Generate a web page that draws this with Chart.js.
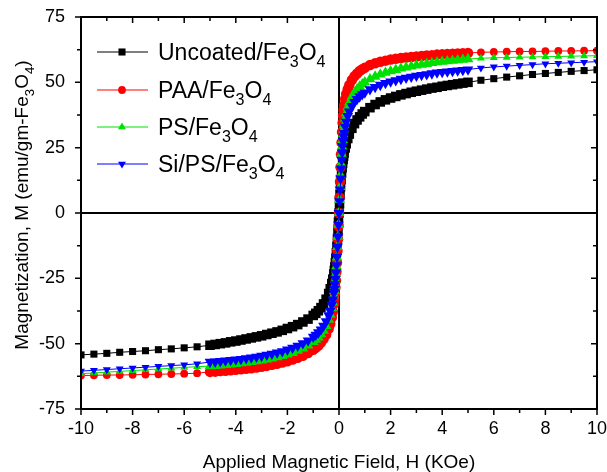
<!DOCTYPE html>
<html>
<head>
<meta charset="utf-8">
<script src="https://cdn.jsdelivr.net/npm/chart.js@4.4.1/dist/chart.umd.min.js"></script>
<style>
  html, body { margin: 0; padding: 0; background: #fff; }
  #wrap { width: 607px; height: 472px; }
</style>
</head>
<body>
<div id="wrap"><canvas id="mhChart" width="607" height="472"></canvas></div>
<script>
// applied field (KOe) - sparse at the ends, dense between -5 and 5
const fieldKOe = [
  -10, -9.5, -9, -8.5, -8, -7.5, -7, -6.5, -6, -5.5,
  -5, -4.8, -4.6, -4.4, -4.2, -4, -3.8, -3.6, -3.4, -3.2, -3, -2.8, -2.6, -2.4, -2.2, -2, -1.8, -1.6, -1.4, -1.2,
  -1, -0.9, -0.8, -0.7, -0.6, -0.5, -0.4, -0.34, -0.28, -0.24,
  -0.2, -0.18, -0.16, -0.14, -0.12, -0.1, -0.08, -0.06, -0.04, -0.02, 0, 0.02, 0.04, 0.06, 0.08, 0.1, 0.12, 0.14, 0.16, 0.18, 0.2,
  0.24, 0.28, 0.34, 0.4, 0.5, 0.6, 0.7, 0.8, 0.9, 1,
  1.2, 1.4, 1.6, 1.8, 2, 2.2, 2.4, 2.6, 2.8, 3, 3.2, 3.4, 3.6, 3.8, 4, 4.2, 4.4, 4.6, 4.8, 5,
  5.5, 6, 6.5, 7, 7.5, 8, 8.5, 9, 9.5, 10
];

// magnetization (emu/gm-Fe3O4)
const uncoated = [
  -54.3, -54.0, -53.7, -53.3, -53.0, -52.7, -52.3, -52.0, -51.6, -51.2,
  -50.6, -50.3, -50.0, -49.7, -49.3, -49.0, -48.6, -48.2, -47.8, -47.4, -47.0, -46.5, -46.0, -45.5, -44.9, -44.2, -43.5, -42.7, -41.7, -40.6,
  -39.2, -38.4, -37.4, -36.2, -34.8, -33.0, -30.8, -29.0, -27.0, -25.3,
  -23.3, -22.0, -20.6, -19.0, -17.3, -15.2, -12.8, -10.0, -7.0, -3.5, 0, 3.5, 7.0, 10.0, 12.8, 15.2, 17.3, 19.0, 20.5, 21.8, 23.0,
  24.9, 26.5, 28.5, 30.2, 32.4, 34.2, 35.6, 36.8, 37.9, 38.8,
  40.3, 41.5, 42.5, 43.3, 44.0, 44.6, 45.2, 45.7, 46.2, 46.6, 47.0, 47.4, 47.8, 48.1, 48.5, 48.8, 49.1, 49.4, 49.7, 50.0,
  50.8, 51.4, 52.0, 52.5, 53.0, 53.4, 53.8, 54.2, 54.5, 54.8
];
const paa = [
  -62.2, -62.1, -62.0, -62.0, -61.9, -61.8, -61.7, -61.6, -61.5, -61.3,
  -60.8, -60.7, -60.5, -60.4, -60.2, -60.0, -59.8, -59.6, -59.4, -59.1, -58.8, -58.5, -58.1, -57.7, -57.2, -56.7, -56.1, -55.4, -54.6, -53.6,
  -52.3, -51.6, -50.7, -49.6, -48.2, -46.5, -44.3, -42.5, -40.0, -37.8,
  -34.8, -33.0, -31.0, -28.5, -25.8, -22.5, -19.0, -14.5, -10.0, -5.0, 0, 6.0, 12.0, 17.5, 22.5, 27.0, 31.0, 34.5, 37.2, 39.4, 41.2,
  43.6, 45.5, 47.4, 49.0, 50.9, 52.3, 53.4, 54.3, 55.0, 55.6,
  56.6, 57.3, 57.9, 58.3, 58.7, 59.0, 59.3, 59.5, 59.7, 59.9, 60.1, 60.3, 60.4, 60.6, 60.7, 60.8, 60.9, 61.0, 61.1, 61.2,
  61.5, 61.6, 61.7, 61.8, 61.8, 61.9, 62.0, 62.0, 62.1, 62.1
];
const ps = [
  -61.5, -61.2, -60.9, -60.6, -60.3, -60.0, -59.7, -59.4, -59.1, -58.8,
  -58.6, -58.5, -58.3, -58.1, -57.9, -57.7, -57.5, -57.3, -57.0, -56.7, -56.4, -56.0, -55.6, -55.2, -54.7, -54.1, -53.5, -52.7, -51.8, -50.7,
  -49.3, -48.5, -47.6, -46.4, -45.0, -43.2, -40.8, -38.9, -36.4, -34.2,
  -31.4, -29.8, -27.9, -25.7, -23.2, -20.3, -17.0, -13.0, -9.0, -4.5, 0, 5.0, 10.0, 14.5, 18.8, 22.5, 25.5, 28.0, 30.2, 32.0, 33.6,
  36.2, 38.2, 40.5, 42.3, 44.5, 46.1, 47.4, 48.4, 49.3, 50.0,
  51.2, 52.2, 53.0, 53.7, 54.3, 54.8, 55.3, 55.7, 56.1, 56.5, 56.8, 57.1, 57.4, 57.7, 57.9, 58.1, 58.3, 58.5, 58.7, 58.9,
  59.2, 59.4, 59.5, 59.6, 59.7, 59.8, 59.9, 60.0, 60.1, 60.2
];
const siPs = [
  -60.5, -60.2, -59.9, -59.6, -59.3, -59.0, -58.7, -58.4, -58.1, -57.7,
  -57.0, -56.9, -56.7, -56.5, -56.3, -56.1, -55.9, -55.6, -55.3, -55.0, -54.7, -54.3, -53.9, -53.4, -52.9, -52.3, -51.6, -50.8, -49.9, -48.8,
  -47.4, -46.6, -45.7, -44.6, -43.2, -41.5, -39.2, -37.4, -35.1, -33.1,
  -30.6, -29.1, -27.3, -25.2, -22.8, -20.0, -16.8, -13.0, -9.0, -4.5, 0, 4.5, 9.0, 13.2, 17.0, 20.3, 23.1, 25.5, 27.5, 29.2, 30.6,
  33.0, 34.9, 37.1, 38.8, 40.9, 42.4, 43.6, 44.6, 45.4, 46.1,
  47.3, 48.2, 49.0, 49.7, 50.3, 50.8, 51.3, 51.7, 52.1, 52.5, 52.8, 53.1, 53.4, 53.7, 53.9, 54.1, 54.3, 54.5, 54.7, 54.9,
  55.5, 55.9, 56.2, 56.5, 56.8, 57.1, 57.3, 57.5, 57.7, 57.9
];

// legend labels: [text, isSubscript]
const legendLabels = [
  [['Uncoated/Fe', 0], ['3', 1], ['O', 0], ['4', 1]],
  [['PAA/Fe', 0], ['3', 1], ['O', 0], ['4', 1]],
  [['PS/Fe', 0], ['3', 1], ['O', 0], ['4', 1]],
  [['Si/PS/Fe', 0], ['3', 1], ['O', 0], ['4', 1]]
];
const yTitle = [['Magnetization, M (emu/gm-Fe', 0], ['3', 1], ['O', 0], ['4', 1], [')', 0]];
const xTitle = 'Applied Magnetic Field, H (KOe)';

const FONT = '"Liberation Sans", Arial, Helvetica, sans-serif';

function pts(ys) {
  return fieldKOe.map((x, i) => ({ x: x, y: ys[i] }));
}

function markerRadius(style) {
  if (style === 'rect') return 5;
  if (style === 'triangle') return 4.6;
  return 3.9;
}

function makeSet(label, ys, color, style, rot, order) {
  const r = markerRadius(style);
  return {
    label: label,
    data: pts(ys),
    borderColor: color,
    backgroundColor: color,
    borderWidth: 1,
    pointStyle: style,
    rotation: rot,
    // the dense sweep between -5 and 5 KOe reads as a thick band of markers
    pointRadius: c => (c.raw && Math.abs(c.raw.x) <= 5 ? r * 1.35 : r),
    legendRadius: r,
    pointBorderWidth: 0,
    pointBackgroundColor: color,
    tension: 0,
    order: order
  };
}

const seriesColors = ['#000000', '#ff0000', '#00e000', '#0000ff'];
const seriesStyles = [['rect', 0], ['circle', 0], ['triangle', 0], ['triangle', 180]];

// rich text helpers (normal + subscript parts)
function richWidth(ctx, parts, size) {
  let w = 0;
  parts.forEach(p => {
    ctx.font = (p[1] ? size * 0.7 : size) + 'px ' + FONT;
    w += ctx.measureText(p[0]).width;
  });
  return w;
}
function drawRich(ctx, parts, x, y, size) {
  ctx.textBaseline = 'alphabetic';
  ctx.textAlign = 'left';
  parts.forEach(p => {
    const s = p[1] ? size * 0.7 : size;
    ctx.font = s + 'px ' + FONT;
    ctx.fillText(p[0], x, p[1] ? y + size * 0.3 : y);
    x += ctx.measureText(p[0]).width;
  });
}

const framePlugin = {
  id: 'frame',
  beforeDatasetsDraw(chart) {
    const { ctx, chartArea: a, scales: { x, y } } = chart;
    ctx.save();
    ctx.strokeStyle = '#000';
    ctx.lineWidth = 2;
    const x0 = x.getPixelForValue(0), y0 = y.getPixelForValue(0);
    ctx.beginPath();
    ctx.moveTo(x0, a.top); ctx.lineTo(x0, a.bottom);
    ctx.moveTo(a.left, y0); ctx.lineTo(a.right, y0);
    ctx.stroke();
    ctx.restore();
  },
  afterDraw(chart) {
    const { ctx, chartArea: a, scales: { x, y } } = chart;
    ctx.save();
    ctx.strokeStyle = '#000';
    ctx.lineWidth = 2;
    ctx.strokeRect(a.left, a.top, a.right - a.left, a.bottom - a.top);

    // tick marks: bottom/left outward, top/right inward
    ctx.lineWidth = 1.5;
    ctx.beginPath();
    for (let v = -10; v <= 10; v += 1) {
      const px = x.getPixelForValue(v);
      const len = v % 2 === 0 ? 6 : 4;
      ctx.moveTo(px, a.bottom); ctx.lineTo(px, a.bottom + len);
      ctx.moveTo(px, a.top); ctx.lineTo(px, a.top + len);
    }
    for (let v = -75; v <= 75; v += 12.5) {
      const py = y.getPixelForValue(v);
      const len = v % 25 === 0 ? 6 : 4;
      ctx.moveTo(a.left, py); ctx.lineTo(a.left - len, py);
      ctx.moveTo(a.right, py); ctx.lineTo(a.right - len, py);
    }
    ctx.stroke();

    // legend inside the plot
    const ds = chart.data.datasets;
    const rowY = [52, 90, 127, 164];
    ds.forEach((d, i) => {
      const cy = rowY[i];
      ctx.strokeStyle = d.borderColor;
      ctx.lineWidth = 1;
      ctx.beginPath();
      ctx.moveTo(97, cy); ctx.lineTo(148, cy);
      ctx.stroke();
      ctx.fillStyle = d.borderColor;
      Chart.helpers.drawPoint(ctx, {
        pointStyle: d.pointStyle, rotation: d.rotation,
        radius: d.legendRadius, borderWidth: 0
      }, 122, cy);
      ctx.fillStyle = '#000';
      drawRich(ctx, legendLabels[i], 158, cy + 8, 23);
    });

    // y axis title
    ctx.save();
    ctx.translate(21, 205);
    ctx.rotate(-Math.PI / 2);
    ctx.fillStyle = '#000';
    const w = richWidth(ctx, yTitle, 19);
    drawRich(ctx, yTitle, -w / 2, 7, 19);
    ctx.restore();
    ctx.restore();
  }
};

new Chart(document.getElementById('mhChart'), {
  type: 'line',
  data: {
    datasets: [
      makeSet('Uncoated/Fe3O4', uncoated, seriesColors[0], seriesStyles[0][0], seriesStyles[0][1], 3),
      makeSet('PAA/Fe3O4', paa, seriesColors[1], seriesStyles[1][0], seriesStyles[1][1], 2),
      makeSet('PS/Fe3O4', ps, seriesColors[2], seriesStyles[2][0], seriesStyles[2][1], 1),
      makeSet('Si/PS/Fe3O4', siPs, seriesColors[3], seriesStyles[3][0], seriesStyles[3][1], 0)
    ]
  },
  options: {
    responsive: false,
    animation: false,
    layout: { padding: { left: 0, right: 10, top: 17, bottom: 0 } },
    scales: {
      x: {
        type: 'linear',
        min: -10, max: 10,
        afterFit: s => { s.height = 63; s.paddingLeft = 0; s.paddingRight = 0; },
        ticks: { stepSize: 2, color: '#000', padding: 9, font: { family: FONT, size: 18 } },
        grid: { display: false, drawTicks: false },
        border: { display: false },
        title: { display: true, text: xTitle, color: '#000', padding: 0, font: { family: FONT, size: 19, lineHeight: 1 } }
      },
      y: {
        type: 'linear',
        min: -75, max: 75,
        afterFit: s => { s.width = 81; s.paddingTop = 0; s.paddingBottom = 0; },
        ticks: { stepSize: 25, color: '#000', padding: 16, font: { family: FONT, size: 18 } },
        grid: { display: false, drawTicks: false },
        border: { display: false }
      }
    },
    plugins: {
      legend: { display: false },
      tooltip: { enabled: false }
    }
  },
  plugins: [framePlugin]
});
</script>
</body>
</html>
